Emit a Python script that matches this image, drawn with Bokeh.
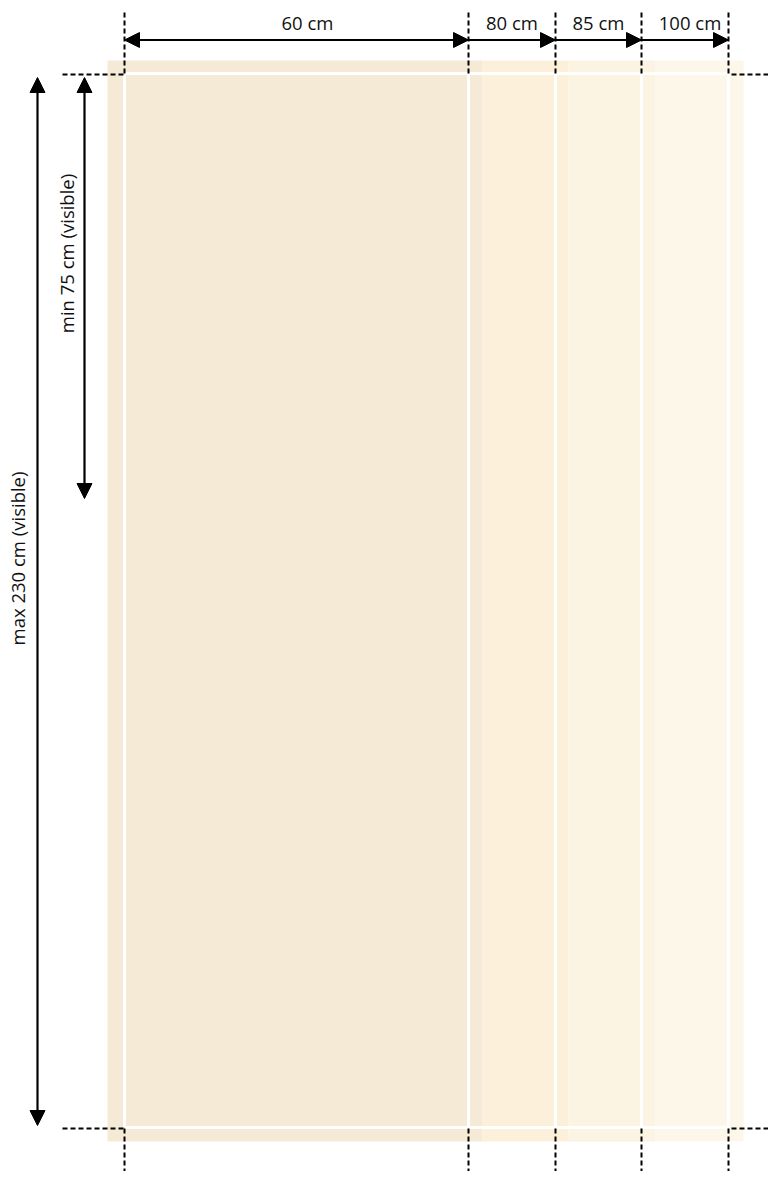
import math
from bokeh.plotting import figure
from bokeh.models import Range1d, Arrow, NormalHead
from bokeh.core.properties import value
from bokeh.embed import file_html
from bokeh.resources import INLINE

# ---- diagram data (schematic layout units = page pixels) ----
width_labels = ["60 cm", "80 cm", "85 cm", "100 cm"]
rail_edges = [124, 468, 555, 641, 728]          # frame / option boundaries
panel_right = [482, 568, 655, 743]               # curtain panel right edges
panel_colors = ["#F5EAD5", "#FCF0DB", "#FCF4E3", "#FDF7E9"]
height_labels = ["max 230 cm (visible)", "min 75 cm (visible)"]

panel_left0 = 107
panel_top, panel_bottom = 60, 1141
frame_top, frame_bottom = 73, 1127
dim_y = 39.5
label_y = 22

FONT = value("Open Sans")
W, H = 768, 1171

p = figure(width=W, height=H, x_range=Range1d(0, W), y_range=Range1d(H, 0),
           output_backend="svg", toolbar_location=None, min_border=0)
p.axis.visible = False
p.grid.visible = False
p.outline_line_color = None
p.background_fill_color = "white"
p.border_fill_color = "white"

# curtain panels
lefts = [panel_left0] + panel_right[:-1]
p.quad(left=lefts, right=panel_right, top=[panel_top] * 4, bottom=[panel_bottom] * 4,
       fill_color=panel_colors, line_color=None)

# white frame lines
p.segment(x0=rail_edges, x1=rail_edges, y0=[frame_top] * 5, y1=[frame_bottom] * 5,
          line_color="white", line_width=3)
p.segment(x0=[rail_edges[0]] * 2, x1=[rail_edges[-1]] * 2, y0=[frame_top, frame_bottom],
          y1=[frame_top, frame_bottom], line_color="white", line_width=3)

# dashed extension lines
dash = "5 3"
p.segment(x0=rail_edges, x1=rail_edges, y0=[12] * 5, y1=[frame_top + 1] * 5,
          line_color="black", line_width=2, line_dash=dash)
p.segment(x0=rail_edges, x1=rail_edges, y0=[frame_bottom + 1] * 5, y1=[1200] * 5,
          line_color="black", line_width=2, line_dash=dash)
for yy in (frame_top + 1, frame_bottom + 1):
    p.segment(x0=[62, rail_edges[-1] + 3], x1=[rail_edges[0], 800], y0=[yy, yy], y1=[yy, yy],
              line_color="black", line_width=2, line_dash=dash)

# horizontal dimension arrows
head = dict(size=15, fill_color="black", line_color="black")
p.add_layout(Arrow(x_start=rail_edges[0], x_end=rail_edges[1], y_start=dim_y, y_end=dim_y,
                   start=NormalHead(**head), end=NormalHead(**head), line_width=2.2))
for i in range(1, 4):
    p.add_layout(Arrow(x_start=rail_edges[i], x_end=rail_edges[i + 1], y_start=dim_y, y_end=dim_y,
                       end=NormalHead(**head), line_width=2.2))

mids = [(rail_edges[i] + rail_edges[i + 1]) / 2 for i in range(4)]
mids[0] += 11
mids[3] += 5
p.text(x=mids, y=[label_y] * 4, text=width_labels, text_font=FONT, text_font_size="18.5px",
       text_align="center", text_baseline="middle", text_color="#111111")

# vertical dimension arrows
p.add_layout(Arrow(x_start=37, x_end=37, y_start=77, y_end=1125,
                   start=NormalHead(**head), end=NormalHead(**head), line_width=2.2))
p.add_layout(Arrow(x_start=84, x_end=84, y_start=77, y_end=498,
                   start=NormalHead(**head), end=NormalHead(**head), line_width=2.2))

p.text(x=[17, 66], y=[558, 253], text=height_labels, angle=math.pi / 2, text_font=FONT,
       text_font_size="18.5px", text_align="center", text_baseline="middle", text_color="#111111")

open("out.html", "w").write(file_html(p, INLINE))
